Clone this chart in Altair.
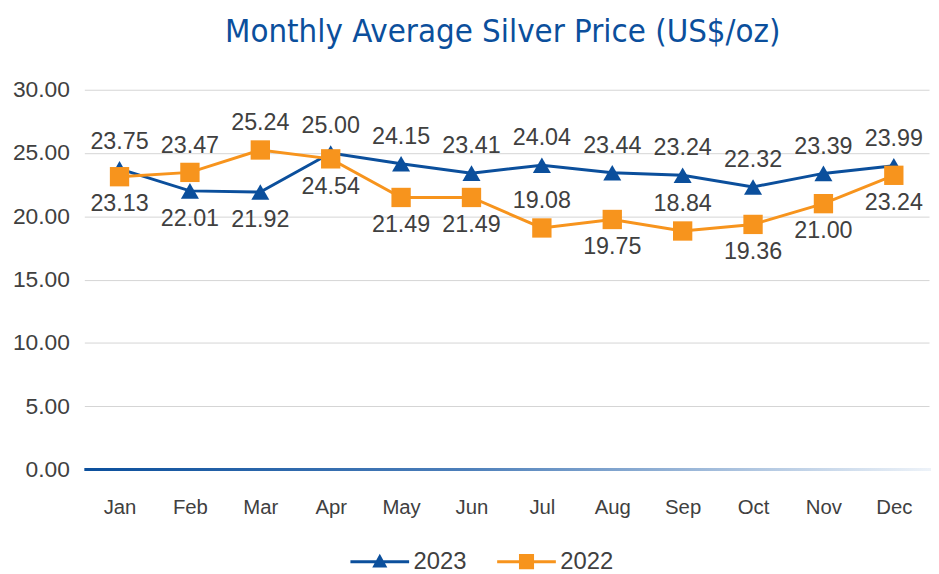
import altair as alt
import pandas as pd

months = ["Jan", "Feb", "Mar", "Apr", "May", "Jun", "Jul", "Aug", "Sep", "Oct", "Nov", "Dec"]
silver_2023 = [23.75, 22.01, 21.92, 25.00, 24.15, 23.41, 24.04, 23.44, 23.24, 22.32, 23.39, 23.99]
silver_2022 = [23.13, 23.47, 25.24, 24.54, 21.49, 21.49, 19.08, 19.75, 18.84, 19.36, 21.00, 23.24]
label_pos_2023 = ["above", "below", "below", "above", "above", "above", "above", "above", "above", "above", "above", "above"]
label_pos_2022 = ["below", "above", "above", "below", "below", "below", "above", "below", "above", "below", "below", "below"]
years = ["2023", "2022"]
y_ticks = [0, 5, 10, 15, 20, 25, 30]

rows = []
for m, v, p in zip(months, silver_2023, label_pos_2023):
    rows.append({"month": m, "year": "2023", "price": v, "pos": p})
for m, v, p in zip(months, silver_2022, label_pos_2022):
    rows.append({"month": m, "year": "2022", "price": v, "pos": p})
df = pd.DataFrame(rows)

BLUE = "#0b4f9c"
ORANGE = "#f7941d"
TEXT = "#404040"
FONT = "Liberation Sans"
W, H = 852, 383

color_scale = alt.Scale(domain=years, range=[BLUE, ORANGE])

x_enc = alt.X("month:N", sort=months, title=None,
              axis=alt.Axis(labelAngle=0, domain=False, ticks=False, labelPadding=28,
                            labelFontSize=20.5, labelColor=TEXT, labelFont=FONT, grid=False))
y_enc = alt.Y("price:Q", title=None, scale=alt.Scale(domain=[0, 30]),
              axis=alt.Axis(values=y_ticks, format=".2f", domain=False, ticks=False,
                            labelPadding=15, labelFontSize=23, labelColor=TEXT, labelFont=FONT,
                            grid=True, gridColor="#d4d4d4", gridWidth=1))

base = alt.Chart(df)

gradient = alt.LinearGradient(
    gradient="linear", x1=0, x2=1, y1=0, y2=0,
    stops=[alt.GradientStop(offset=0, color="#0b4f9c"),
           alt.GradientStop(offset=0.45, color="#4d7fba"),
           alt.GradientStop(offset=1, color="#eef3f9")])
axis_line = alt.Chart(pd.DataFrame({"v": [0]})).mark_rect(fill=gradient).encode(
    x=alt.value(0), x2=alt.value(W + 4), y=alt.value(H - 1.5), y2=alt.value(H + 1.5))

line23 = base.transform_filter(alt.datum.year == "2023").mark_line(
    strokeWidth=3, color=BLUE).encode(x=x_enc, y=y_enc)
line22 = base.transform_filter(alt.datum.year == "2022").mark_line(
    strokeWidth=3, color=ORANGE).encode(x=x_enc, y=y_enc)

pts23 = base.transform_filter(alt.datum.year == "2023").mark_point(
    shape="triangle-up", filled=True, size=330, color=BLUE, opacity=1).encode(x=x_enc, y=y_enc)
pts22 = base.transform_filter(alt.datum.year == "2022").mark_point(
    shape="square", filled=True, size=380, color=ORANGE, opacity=1).encode(x=x_enc, y=y_enc)

txt_above = base.transform_filter(alt.datum.pos == "above").mark_text(
    dy=-27, fontSize=23.5, font=FONT, color=TEXT, baseline="middle").encode(
    x=x_enc, y=y_enc, text=alt.Text("price:Q", format=".2f"))
txt_below = base.transform_filter(alt.datum.pos == "below").mark_text(
    dy=28, fontSize=23.5, font=FONT, color=TEXT, baseline="middle").encode(
    x=x_enc, y=y_enc, text=alt.Text("price:Q", format=".2f"))

tri_path = "M-3.7,-0.19H3.7V0.19H-3.7Z M0,-1.0L0.95,0.75L-0.95,0.75Z"
sq_path = "M-3.7,-0.19H3.7V0.19H-3.7Z M-0.95,-0.95H0.95V0.95H-0.95Z"
leg = alt.Legend(orient="none", legendX=286, legendY=464, direction="horizontal", title=None,
                 labelFontSize=24, labelFont=FONT, labelColor=TEXT, symbolOpacity=1,
                 symbolSize=256, symbolStrokeWidth=0, labelOffset=22, columnPadding=30)
legend_layer = base.mark_point(filled=True, opacity=0).encode(
    x=x_enc, y=y_enc,
    color=alt.Color("year:N", scale=color_scale, sort=years, legend=leg),
    shape=alt.Shape("year:N", scale=alt.Scale(domain=years, range=[tri_path, sq_path]),
                    sort=years, legend=leg))

chart = alt.layer(axis_line, line23, line22, pts23, pts22, txt_above, txt_below, legend_layer).properties(
    width=W, height=H,
    title=alt.TitleParams("Monthly Average Silver Price (US$/oz)", fontSize=33,
                          font="DejaVu Sans Condensed, Roboto Condensed, Roboto", color=BLUE,
                          fontWeight="normal", anchor="middle", offset=30, dx=-4),
    padding={"left": 77, "top": 80, "right": 2, "bottom": 103},
    autosize=alt.AutoSizeParams(type="none"),
).configure_view(stroke=None)

chart.save("out.html", embed_options={"renderer": "svg", "actions": False})
